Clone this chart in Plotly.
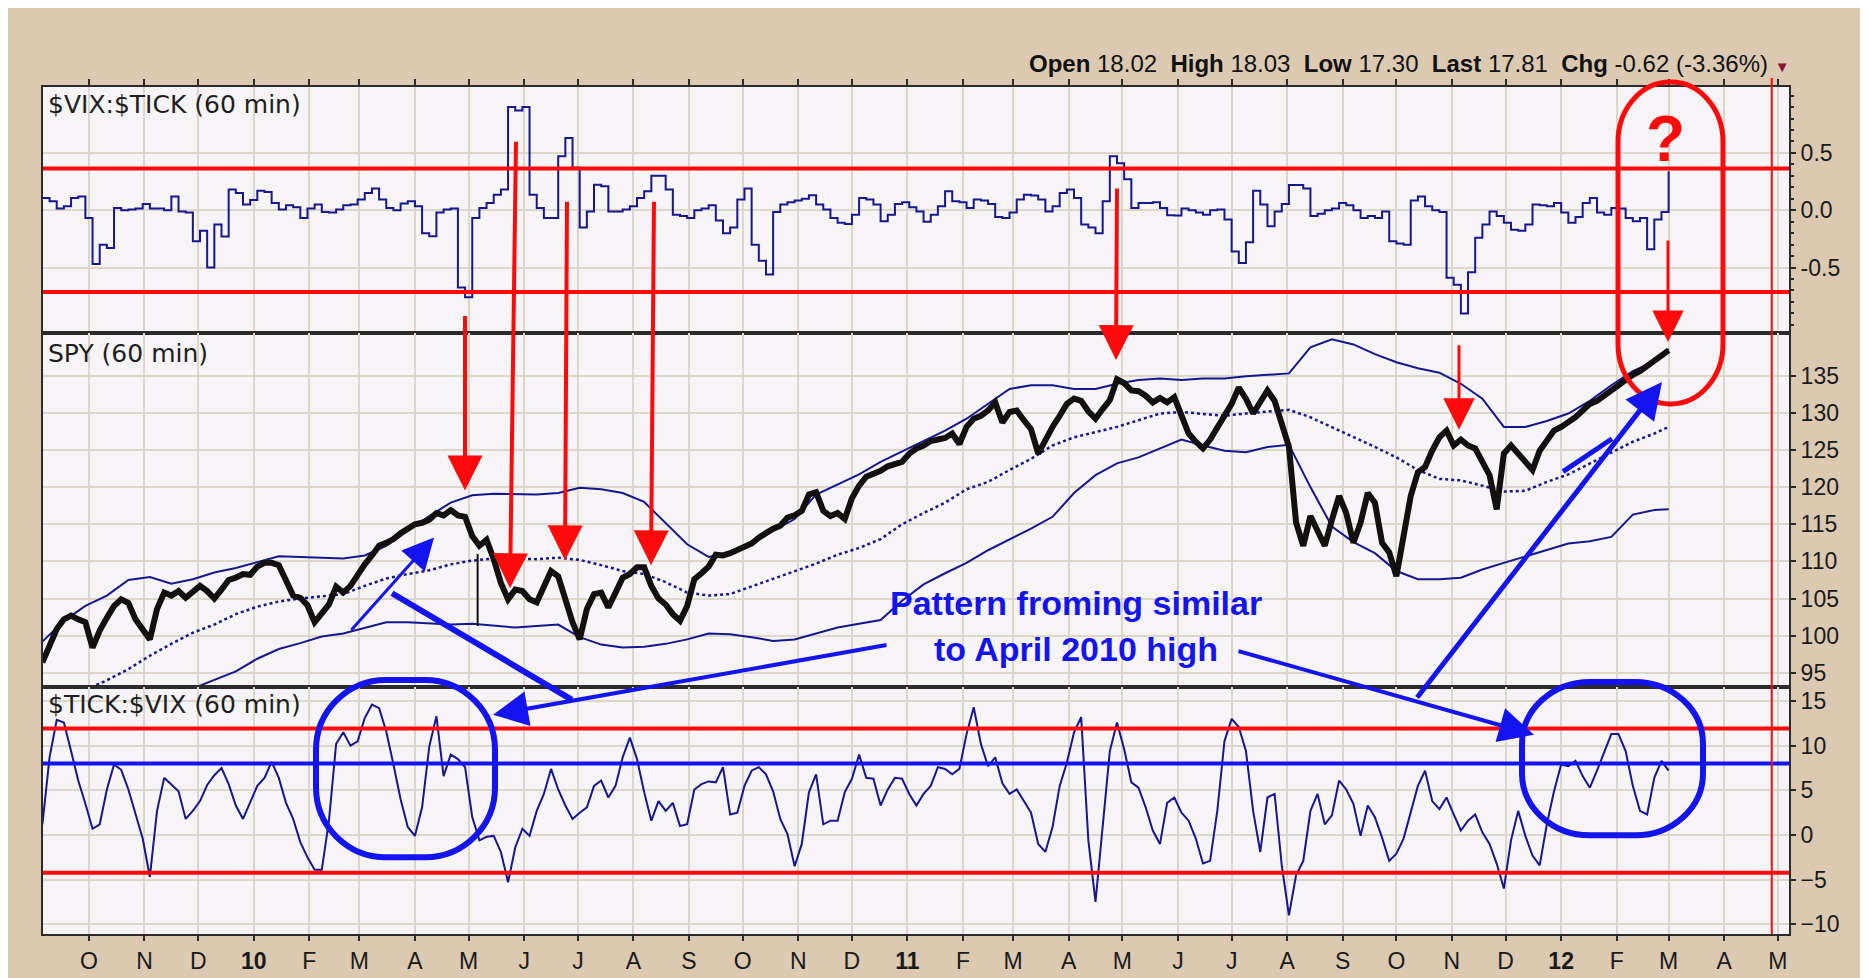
import pandas as pd
import plotly.graph_objects as go
from plotly.subplots import make_subplots

# ---------------- data ----------------
START = "2009-09-05"
STEP = "4D"

# $VIX:$TICK (60 min), one reading every 4 calendar days
vix_tick = [
    0.107, 0.078, 0.015, 0.035, 0.107, 0.12, -0.067, -0.47, -0.30, -0.33,
    0.02, 0.0, 0.006, 0.015, 0.055, 0.015, 0.015, 0.0, 0.12, -0.01,
    -0.02, -0.27, -0.18, -0.5, -0.125, -0.23, 0.18, 0.15, 0.05, 0.09,
    0.17, 0.16, 0.064, 0.006, 0.043, 0.026, -0.067, 0.015, 0.05, -0.015,
    -0.02, 0.006, 0.043, 0.05, 0.093, 0.15, 0.19, 0.093, 0.02, 0.0,
    0.058, 0.078, 0.035, -0.2, -0.226, -0.02, 0.006, 0.015, -0.675, -0.76,
    -0.067, 0.02, 0.064, 0.136, 0.18, 0.90, 0.87, 0.90, 0.136, 0.02,
    -0.067, -0.067, 0.47, 0.63, 0.37, -0.15, -0.01, 0.223, 0.21, -0.01,
    -0.01, 0.006, 0.035, 0.107, 0.165, 0.30, 0.30, 0.18, -0.04, -0.05,
    -0.067, 0.0, 0.015, 0.043, -0.09, -0.2, -0.15, 0.093, 0.19, -0.3,
    -0.44, -0.56, -0.015, 0.05, 0.07, 0.085, 0.10, 0.13, 0.05, 0.006,
    -0.067, -0.11, -0.12, -0.04, 0.107, 0.093, 0.05, -0.096, -0.04, 0.055,
    0.07, 0.026, -0.01, -0.1, -0.04, 0.035, 0.165, 0.078, 0.07, 0.02,
    0.093, 0.085, 0.055, -0.06, -0.067, -0.02, 0.093, 0.136, 0.128, 0.093,
    -0.01, 0.035, 0.15, 0.18, 0.107, -0.125, -0.15, -0.2, 0.078, 0.47,
    0.41, 0.27, 0.02, 0.064, 0.064, 0.07, 0.02, -0.043, -0.046, 0.015,
    0.0, -0.02, -0.04, 0.0, 0.006, -0.08, -0.36, -0.46, -0.28, 0.17,
    0.05, -0.14, -0.01, 0.055, 0.22, 0.22, 0.19, -0.05, -0.03, 0.0,
    0.015, 0.064, 0.043, 0.0, -0.067, -0.05, -0.067, -0.01, -0.27, -0.29,
    -0.3, 0.084, 0.12, 0.035, 0.0, -0.015, -0.59, -0.65, -0.9, -0.54,
    -0.24, -0.125, -0.01, -0.05, -0.11, -0.17, -0.18, -0.125, 0.05, 0.043,
    0.035, 0.064, -0.02, -0.11, -0.06, 0.064, 0.107, -0.02, -0.04, 0.02,
    0.015, -0.067, -0.096, -0.067, -0.34, -0.08, -0.015, 0.34,
]

# SPY (60 min)
spy = [
    96.4, 98.6, 100.9, 102.2, 102.7, 102.2, 101.8, 98.4, 100.7, 102.4,
    104.0, 104.9, 104.4, 102.2, 100.7, 99.5, 103.6, 105.8, 105.4, 106.0,
    105.1, 105.8, 106.7, 106.0, 105.0, 106.2, 107.5, 107.8, 108.3, 108.2,
    109.3, 109.8, 109.8, 109.5, 107.4, 105.4, 105.1, 104.1, 101.8, 102.9,
    104.2, 106.6, 105.8, 106.7, 108.3, 109.6, 110.8, 112.1, 112.5, 113.0,
    113.8, 114.3, 115.0, 115.2, 115.6, 116.5, 116.2, 116.9, 116.2, 116.0,
    113.4, 112.1, 112.9, 110.3, 107.1, 104.9, 106.2, 106.0, 104.9, 104.5,
    106.5, 108.7, 108.0, 104.7, 101.8, 99.5, 103.6, 105.6, 105.8, 103.8,
    105.6, 107.8, 108.3, 109.2, 109.2, 106.7, 105.0, 104.2, 102.9, 102.0,
    104.0, 107.6, 108.4, 109.3, 110.9, 110.8, 111.1, 111.5, 111.8, 112.4,
    113.2, 113.9, 114.4, 114.8, 115.9, 116.2, 116.8, 119.0, 119.3, 116.8,
    116.1, 116.5, 115.7, 118.5, 120.2, 121.4, 121.7, 122.2, 122.8, 123.2,
    123.4, 124.5, 125.2, 125.6, 126.2, 126.4, 126.6, 127.2, 125.8, 128.1,
    129.2, 129.6, 130.3, 131.4, 128.7, 130.1, 130.3, 129.0, 127.8, 124.5,
    126.5, 128.1, 129.6, 131.2, 131.9, 131.6, 130.2, 129.2, 130.5, 131.7,
    134.5, 134.0, 133.0, 132.9, 132.3, 131.4, 132.0, 131.4, 132.1, 129.4,
    127.2, 126.1, 125.2, 126.4, 128.1, 129.9, 131.2, 133.4, 131.9, 129.9,
    131.6, 133.0, 131.6, 128.7, 125.4, 115.2, 112.1, 116.1, 114.3, 112.1,
    115.6, 118.8, 116.5, 112.5, 115.2, 119.2, 117.9, 112.5, 111.2, 108.0,
    113.4, 118.8, 122.0, 122.7, 124.9, 126.7, 127.6, 125.6, 126.4, 125.6,
    125.2, 123.2, 121.6, 117.0, 124.5, 125.6, 124.5, 123.2, 122.3, 124.9,
    126.3, 127.6, 128.1, 128.7, 129.4, 130.3, 131.2, 131.6, 132.3, 133.0,
    133.7, 134.6, 135.1, 135.6, 136.3, 137.0, 137.7, 138.4,
]

# $TICK:$VIX (60 min)
tick_vix = [
    1.2, 8.7, 12.9, 12.6, 9.4, 6.1, 3.5, 0.7, 1.2, 5.1,
    7.9, 7.3, 5.1, 2.3, -0.4, -4.7, 2.7, 6.4, 5.7, 4.9,
    1.8, 2.7, 3.8, 5.6, 6.7, 7.5, 5.7, 3.3, 1.8, 3.6,
    5.5, 6.4, 8.2, 6.4, 3.6, 1.8, -0.8, -2.5, -3.9, -3.9,
    1.6, 10.2, 11.5, 10.0, 10.5, 13.1, 14.6, 14.2, 11.6, 7.9,
    4.0, 0.9, -0.1, 3.1, 9.9, 13.3, 6.6, 9.0, 8.5, 7.6,
    2.0, -0.6, -0.2, -0.1, -1.9, -5.3, -1.4, 0.7, -0.1, 2.7,
    4.6, 7.4, 5.1, 3.3, 1.8, 2.5, 3.1, 5.5, 6.1, 4.2,
    5.5, 8.7, 10.9, 8.5, 4.8, 1.6, 3.8, 2.7, 3.6, 1.0,
    1.2, 5.1, 5.7, 6.0, 5.9, 7.6, 2.3, 2.5, 5.5, 7.2,
    7.6, 6.8, 4.9, 1.8, 0.1, -3.5, -1.0, 4.8, 6.8, 1.2,
    1.6, 1.6, 4.8, 6.3, 9.0, 6.4, 6.3, 3.3, 5.1, 6.4,
    6.3, 4.6, 3.3, 4.6, 5.5, 7.6, 7.4, 6.8, 7.4, 11.3,
    14.3, 10.2, 7.7, 8.7, 5.8, 4.6, 5.1, 3.8, 2.5, -1.0,
    -1.9, 0.9, 5.5, 8.1, 11.5, 13.2, -0.6, -7.5, 0.9, 9.4,
    12.6, 9.6, 5.9, 5.3, 3.1, 0.5, -1.0, 3.6, 4.2, 2.5,
    1.6, -0.4, -3.2, -2.9, 2.7, 10.5, 13.0, 12.1, 9.4, 2.7,
    -1.9, 4.2, 4.6, -3.4, -9.0, -4.5, -2.9, 2.7, 4.6, 1.2,
    2.2, 6.1, 5.1, 3.5, -0.1, 3.3, 2.0, -0.3, -2.9, -2.1,
    -0.4, 2.5, 5.5, 7.2, 3.8, 2.9, 4.2, 2.3, 0.5, 1.6,
    2.3, 0.3, -1.0, -3.2, -6.0, -0.6, 2.7, -0.1, -2.3, -3.4,
    1.2, 4.9, 7.9, 7.7, 8.3, 6.6, 5.3, 7.2, 9.3, 11.3,
    11.3, 9.4, 5.5, 2.7, 2.3, 6.4, 8.3, 7.2,
]

# Bollinger bands on SPY, one reading every third SPY reading plus the last one
bb_upper = [
    99.2, 102.0, 104.0, 105.4, 107.5, 107.9, 107.0, 107.6, 108.5, 109.1,
    109.9, 110.7, 110.6, 110.5, 110.4, 110.8, 112.1, 114.1, 116.1, 117.9,
    118.9, 119.1, 119.0, 119.0, 119.2, 119.9, 119.7, 119.2, 118.0, 115.2,
    112.3, 110.6, 111.2, 112.5, 114.1, 115.7, 119.0, 120.4, 121.7, 123.4,
    124.8, 126.1, 127.6, 129.2, 131.2, 133.2, 133.7, 133.7, 133.2, 133.2,
    133.9, 134.4, 134.6, 134.4, 134.6, 134.6, 134.9, 135.1, 135.3, 138.8,
    139.9, 139.2, 137.9, 136.8, 136.0, 135.4, 133.9, 131.9, 128.1, 128.1,
    128.9, 129.9, 131.6, 133.7, 135.6, 136.9, 138.6,
]
bb_mid = [
    None, None, 92.7, 94.0, 95.5, 97.3, 98.9, 100.4, 101.5, 102.9,
    103.9, 104.6, 105.0, 105.3, 105.6, 106.7, 107.7, 108.3, 108.8, 109.6,
    110.1, 110.4, 110.3, 110.3, 110.5, 110.2, 109.5, 108.7, 108.3, 107.2,
    105.8, 105.4, 105.6, 106.6, 107.6, 108.7, 109.7, 110.9, 111.8, 113.0,
    115.0, 116.5, 117.9, 119.7, 120.7, 122.3, 123.8, 125.6, 126.7, 127.4,
    128.1, 129.0, 129.9, 130.1, 129.9, 129.6, 129.9, 130.2, 130.4, 129.4,
    128.1, 126.8, 125.4, 124.0, 122.3, 121.1, 120.9, 120.2, 119.4, 119.5,
    120.7, 121.7, 123.2, 124.7, 126.1, 127.2, 128.1,
]
bb_lower = [
    None, None, None, None, None, None, None, 92.9, 94.0, 95.2,
    96.9, 98.2, 99.0, 99.9, 100.3, 101.0, 101.8, 101.8, 101.6, 101.5,
    101.6, 101.3, 101.1, 101.3, 101.5, 99.8, 98.8, 98.4, 98.5, 98.9,
    99.5, 100.3, 100.2, 99.8, 99.3, 99.5, 100.3, 101.1, 101.6, 102.1,
    104.7, 106.9, 108.4, 109.8, 111.5, 112.9, 114.4, 116.0, 119.2, 121.6,
    123.2, 124.0, 125.2, 126.4, 125.6, 124.9, 124.7, 125.4, 125.7, 120.0,
    114.7, 112.6, 111.1, 108.7, 107.6, 107.6, 107.8, 108.9, 109.8, 110.7,
    111.6, 112.4, 112.7, 113.3, 116.3, 116.9, 117.0,
]

# the single long bar of 6 May 2010
flash_date = "2010-05-06"
flash_low = 101.3
flash_high = 111.0

month_labels = ["O", "N", "D", "<b>10</b>", "F", "M", "A", "M", "J", "J", "A", "S",
                "O", "N", "D", "<b>11</b>", "F", "M", "A", "M", "J", "J", "A", "S",
                "O", "N", "D", "<b>12</b>", "F", "M", "A", "M"]

vix_tick_levels = [0.363, -0.713]
tick_vix_red_levels = [11.94, -4.24]
tick_vix_blue_level = 8.0
marker_date = "2012-04-27 14:00"

header_labels = ["Open", "High", "Low", "Last", "Chg"]
header_values = ["18.02", "18.03", "17.30", "17.81", "-0.62 (-3.36%)"]

# ---------------- build ----------------
dates = pd.date_range(START, periods=len(spy), freq=STEP)
band_dates = dates[::3].append(dates[-1:])
month_starts = pd.date_range("2009-10-01", "2012-05-01", freq="MS")

BEIGE = "#DBC9B1"
PLOT_BG = "#F7F4F7"
GRID = "#DDD6CA"
FRAME = "#2B2B2B"
NAVY = "#16168E"
RED = "#FF0A0A"
BLUE = "#1414F0"
TICK_FONT = dict(family="Liberation Sans, Arial, sans-serif", size=23, color="#1A1A1A")

fig = make_subplots(rows=3, cols=1, shared_xaxes=True, vertical_spacing=0,
                    row_heights=[247, 355, 248])

fig.add_trace(go.Scatter(x=dates, y=vix_tick, mode="lines",
                         line=dict(color=NAVY, width=2, shape="hv")), row=1, col=1)
fig.add_trace(go.Scatter(x=band_dates, y=bb_upper, mode="lines",
                         line=dict(color=NAVY, width=2)), row=2, col=1)
fig.add_trace(go.Scatter(x=band_dates, y=bb_mid, mode="lines",
                         line=dict(color=NAVY, width=2.5, dash="dot")), row=2, col=1)
fig.add_trace(go.Scatter(x=band_dates, y=bb_lower, mode="lines",
                         line=dict(color=NAVY, width=2)), row=2, col=1)
fig.add_trace(go.Scatter(x=dates, y=spy, mode="lines",
                         line=dict(color="#141010", width=6)), row=2, col=1)
fig.add_trace(go.Scatter(x=[flash_date, flash_date], y=[flash_low, flash_high], mode="lines",
                         line=dict(color="#141010", width=2)), row=2, col=1)
fig.add_trace(go.Scatter(x=dates, y=tick_vix, mode="lines",
                         line=dict(color=NAVY, width=2)), row=3, col=1)

for v in vix_tick_levels:
    fig.add_hline(y=v, line=dict(color=RED, width=4), row=1, col=1)
for v in tick_vix_red_levels:
    fig.add_hline(y=v, line=dict(color=RED, width=4), row=3, col=1)
fig.add_hline(y=tick_vix_blue_level, line=dict(color=BLUE, width=4), row=3, col=1)

# axes
fig.update_xaxes(range=["2009-09-05 08:00", "2012-05-07 05:00"], tickvals=month_starts,
                 ticktext=month_labels, showgrid=True, gridcolor=GRID, gridwidth=2,
                 showline=True, mirror=True, linecolor=FRAME, linewidth=2, zeroline=False,
                 tickfont=TICK_FONT, fixedrange=True)
fig.update_xaxes(row=1, col=1, side="top", ticks="outside", ticklen=6, tickcolor=FRAME,
                 tickwidth=2, showticklabels=False)
fig.update_xaxes(row=2, col=1, ticks="", showticklabels=False)
fig.update_xaxes(row=3, col=1, ticks="outside", ticklen=5, tickcolor=FRAME, tickwidth=2,
                 showticklabels=True)

fig.update_yaxes(side="right", showgrid=True, gridcolor=GRID, gridwidth=2, showline=True,
                 mirror=True, linecolor=FRAME, linewidth=2, zeroline=False, ticks="outside",
                 ticklen=5, tickcolor=FRAME, tickwidth=2, tickfont=TICK_FONT, fixedrange=True)
fig.update_yaxes(row=1, col=1, range=[-1.072, 1.075], tickvals=[-0.5, 0, 0.5],
                 ticktext=["-0.5", "0.0", "0.5"],
                 minor=dict(ticks="outside", ticklen=3, tickcolor=FRAME,
                            tickvals=[round(-1.0 + 0.1 * k, 1) for k in range(21)],
                            showgrid=False))
fig.update_yaxes(row=2, col=1, range=[93.11, 140.72], tickvals=list(range(95, 136, 5)))
fig.update_yaxes(row=3, col=1, range=[-11.09, 16.59], tickvals=list(range(-10, 16, 5)))

# page-pixel helpers for annotations (plot area: x 43..1789, y 87..937)
PL, PR, PT, PB = 43.0, 1789.0, 87.0, 937.0
def px(x):
    return (x - PL) / (PR - PL)
def py(y):
    return (PB - y) / (PB - PT)

def arrow(tail, head, color, width, size):
    fig.add_annotation(x=px(head[0]), y=py(head[1]), xref="paper", yref="paper",
                       ax=tail[0] - head[0], ay=tail[1] - head[1], axref="pixel", ayref="pixel",
                       text="", showarrow=True, arrowhead=2, arrowsize=size,
                       arrowwidth=width, arrowcolor=color, standoff=0)

def seg(p0, p1, color, width):
    fig.add_shape(type="line", xref="paper", yref="paper", x0=px(p0[0]), y0=py(p0[1]),
                  x1=px(p1[0]), y1=py(p1[1]), line=dict(color=color, width=width))

def rrect(x0, y0, x1, y1, rx, ry, color, width):
    k = 0.5523
    def P(x, y):
        return f"{px(x):.5f},{py(y):.5f}"
    d = (f"M {P(x0 + rx, y0)} L {P(x1 - rx, y0)} "
         f"C {P(x1 - rx + k * rx, y0)} {P(x1, y0 + ry - k * ry)} {P(x1, y0 + ry)} "
         f"L {P(x1, y1 - ry)} "
         f"C {P(x1, y1 - ry + k * ry)} {P(x1 - rx + k * rx, y1)} {P(x1 - rx, y1)} "
         f"L {P(x0 + rx, y1)} "
         f"C {P(x0 + rx - k * rx, y1)} {P(x0, y1 - ry + k * ry)} {P(x0, y1 - ry)} "
         f"L {P(x0, y0 + ry)} "
         f"C {P(x0, y0 + ry - k * ry)} {P(x0 + rx - k * rx, y0)} {P(x0 + rx, y0)} Z")
    fig.add_shape(type="path", xref="paper", yref="paper", path=d,
                  line=dict(color=color, width=width))

def label(text, x, y, font, xanchor="center"):
    fig.add_annotation(x=px(x), y=py(y), xref="paper", yref="paper", text=text,
                       showarrow=False, xanchor=xanchor, yanchor="middle", font=font)

# red vertical marker line
fig.add_shape(type="line", xref="x3", yref="paper", x0=marker_date, x1=marker_date,
              y0=0, y1=py(78), line=dict(color=RED, width=2))

# red arrows
for tail, head, w, s in [((465, 316), (465, 492), 4, 1.75),
                         ((516, 142), (510, 590), 4, 1.75),
                         ((567, 202), (565, 562), 4, 1.75),
                         ((654, 202), (651, 567), 4, 1.75),
                         ((1117, 188), (1116, 361), 4, 1.75),
                         ((1459, 345), (1459, 431), 3, 2.1),
                         ((1668, 240), (1668, 343), 3, 2.1)]:
    arrow(tail, head, RED, w, s)

# blue annotations
seg((392, 595), (572, 702), BLUE, 6)
seg((1563, 473), (1612, 440), BLUE, 5)
arrow((350, 633), (434, 539), BLUE, 3, 2.1)
arrow((888, 647), (493, 717), BLUE, 4, 1.75)
arrow((1237, 653), (1534, 737), BLUE, 4, 1.75)
arrow((1416, 700), (1662, 383), BLUE, 5, 1.45)
rrect(316, 682, 495, 860, 70, 70, BLUE, 6)
rrect(1522, 684, 1703, 838, 68, 62, BLUE, 6)
rrect(1618, 82, 1723, 405, 52, 60, RED, 5)

BOLD_FONT = "Liberation Sans, Arial, sans-serif"
label("<b>?</b>", 1665, 139, dict(family=BOLD_FONT, size=64, color=RED))
label("<b>Pattern froming similar</b>", 1076, 605, dict(family=BOLD_FONT, size=34, color=BLUE))
label("<b>to April 2010 high</b>", 1076, 651, dict(family=BOLD_FONT, size=34, color=BLUE))

# panel titles
for title, ypage in [("$VIX:$TICK (60 min)", 105), ("SPY (60 min)", 354), ("$TICK:$VIX (60 min)", 707)]:
    label(title, 46, ypage, dict(family="DejaVu Sans, Verdana, sans-serif", size=25, color="#1E1E1E"),
          xanchor="left")

# header line
header = "  ".join(f"<b>{l}</b> {v}" for l, v in zip(header_labels, header_values))
header += " <span style='color:#8B1538;font-size:15px'>▼</span>"
label(header, 1792, 63, dict(family="Liberation Sans, Arial, sans-serif", size=24, color="#111111"),
      xanchor="right")

fig.update_layout(width=1868, height=978, margin=dict(l=35, r=87, t=79, b=49),
                  paper_bgcolor=BEIGE, plot_bgcolor=PLOT_BG, showlegend=False)

fig.write_html("out.html")
